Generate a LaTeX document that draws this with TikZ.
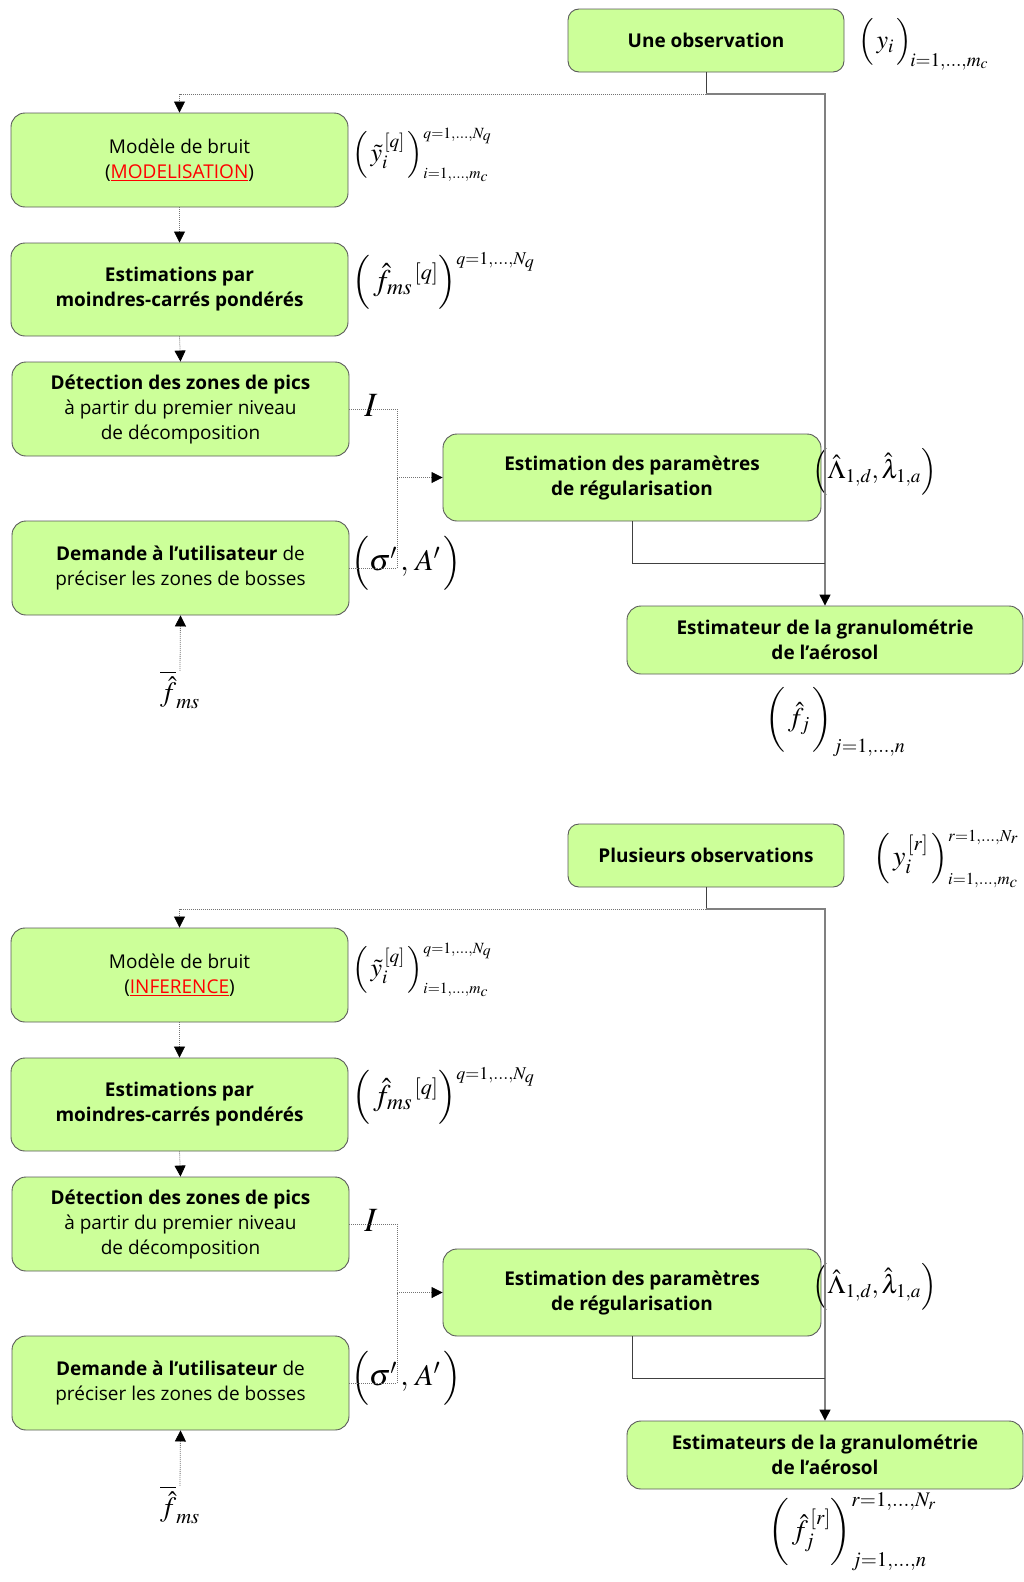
\documentclass[tikz,border=0pt]{standalone}
\usepackage{mathptmx}
\usepackage[no-math]{fontspec}
\setmainfont{Open Sans}
\usetikzlibrary{arrows.meta,positioning}
\definecolor{boxgreen}{HTML}{CCFF99}
\definecolor{boxline}{HTML}{5A5A5A}
\definecolor{redword}{HTML}{FF0000}
\tikzset{
  box/.style={draw=boxline, line width=0.9pt, fill=boxgreen, rounded corners=14pt,
    align=center, inner sep=0pt, font=\fontsize{19}{25}\selectfont},
  dotline/.style={draw=black!55, line width=0.8pt, dash pattern=on 1pt off 1pt},
  mainline/.style={draw=black!50, line width=1.2pt},
  darkline/.style={draw=black!75, line width=1pt},
  arr/.style={-{Triangle[length=11pt,width=11pt,color=black]}},
  mathlbl/.style={inner sep=0pt, font=\fontsize{28}{32}\selectfont},
  msmall/.style={font=\fontsize{26}{30}\selectfont},
}
\newcommand\redu[1]{\textcolor{redword}{\setbox0\hbox{#1}\rlap{\rule[-3pt]{\wd0}{1.6pt}}\box0}}
\newcommand\halfdiagram[7]{%
\begin{scope}[yshift=-#2pt]
  % boxes
  \node[box, minimum width=276pt, minimum height=63pt, rounded corners=11pt] (#1obs) at (706,40.5) {\textbf{#3}};
  \node[box, minimum width=337pt, minimum height=94pt] (#1mod) at (179.5,160) {Modèle de bruit\\(\redu{#4})};
  \node[box, minimum width=337pt, minimum height=93pt] (#1lsq) at (179.5,289.5) {\textbf{Estimations par}\\\textbf{moindres-carrés pondérés}};
  \node[box, minimum width=337pt, minimum height=94pt] (#1det) at (180.5,409) {\textbf{Détection des zones de pics}\\à partir du premier niveau\\de décomposition};
  \node[box, minimum width=337pt, minimum height=94pt] (#1dem) at (180.5,568) {\textbf{Demande à l’utilisateur} de\\préciser les zones de bosses};
  \node[box, minimum width=378pt, minimum height=87pt] (#1est) at (632,477.5) {\textbf{Estimation des paramètres}\\\textbf{de régularisation}};
  \node[box, minimum width=396pt, minimum height=68pt] (#1gran) at (825,640) {\textbf{#5 de la granulométrie}\\\textbf{de l’aérosol}};
  % coordinates
  \coordinate (#1oa) at (706,94);
  \coordinate (#1ja) at (397,477.5);
  \coordinate (#1mg) at (825,563);
  % labels
  \node[mathlbl, anchor=center] (#1fb) at (180,690) {$\overline{\hat{f}}_{ms}$};
  \node[mathlbl, anchor=west] (#1mobs) at #6;
  \node[mathlbl, msmall, anchor=west] (#1mmod) at (352,155) {$\Big(\,\tilde{y}_i^{\,[q]}\,\Big)^{\scriptscriptstyle q=1,\ldots,N_q}_{\scriptscriptstyle i=1,\ldots,m_c}$};
  \node[mathlbl, anchor=west, font=\fontsize{30}{34}\selectfont] (#1mlsq) at (352,281) {$\Big(\,\hat{f}_{ms}{}^{\,[q]}\Big)^{\scriptscriptstyle q=1,\ldots,N_q}$};
  \node[mathlbl, anchor=center, font=\fontsize{34}{38}\selectfont] (#1mI) at (371,405) {$I$};
  \node[mathlbl, anchor=west, font=\fontsize{30}{34}\selectfont] (#1msig) at (351,563) {$\Big(\sigma'\,,\,A'\,\Big)$};
  \node[mathlbl, msmall, anchor=west] (#1mlam) at (812,472) {$\Big(\hat{\Lambda}_{1,d},\hat{\lambda}_{1,a}\Big)$};
  \node[mathlbl, anchor=west] (#1mfj) at #7;
  % connectors
  \draw[darkline] (#1obs.south) -- (#1oa);
  \draw[dotline, arr] (#1oa) -| (#1mod.north);
  \draw[mainline, arr] (#1oa) -| (#1gran.north);
  \draw[dotline, arr] (#1mod.south) -- (#1lsq.north);
  \draw[dotline, arr] (#1lsq.south) -- (#1det.north);
  \draw[dotline] (#1det.east) -| (#1ja);
  \draw[dotline] (#1dem.east) -| (#1ja);
  \draw[dotline, arr] (#1ja) -- (#1est.west);
  \draw[dotline, arr] (#1fb.north) -- (#1dem.south);
  \draw[darkline] (#1est.south) |- (#1mg);
\end{scope}}
\begin{document}
\begin{tikzpicture}[x=1pt,y=-1pt]
\useasboundingbox (0,0) rectangle (1024,1582);
\halfdiagram{a}{0}{Une observation}{MODELISATION}{Estimateur}%
  {(858,44) [font=\fontsize{26}{30}\selectfont] {$\Big(\,y_{i}\,\Big)_{\!i=1,\ldots,m_c}$}}%
  {(765,722) [font=\fontsize{27}{31}\selectfont] {$\bigg(\,\hat{f}_{j}\,\bigg)_{j=1,\ldots,n}$}}
\halfdiagram{b}{815}{Plusieurs observations}{INFERENCE}{Estimateurs}%
  {(873,44) {$\Big(\,y_i^{\,[r]}\,\Big)^{\scriptscriptstyle r=1,\ldots,N_r}_{\scriptscriptstyle i=1,\ldots,m_c}$}}%
  {(768,717) {$\bigg(\,\hat{f}_j^{\,[r]}\bigg)^{r=1,\ldots,N_r}_{j=1,\ldots,n}$}}
\end{tikzpicture}
\end{document}
